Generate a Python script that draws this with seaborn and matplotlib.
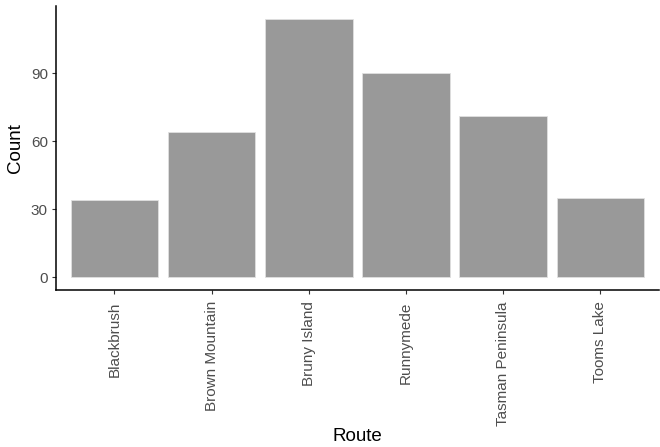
import matplotlib
matplotlib.use("Agg")
import matplotlib.pyplot as plt
import seaborn as sns
import pandas as pd

routes = ["Blackbrush", "Brown Mountain", "Bruny Island", "Runnymede",
          "Tasman Peninsula", "Tooms Lake"]
counts = [34, 64, 114, 90, 71, 35]
y_ticks = [0, 30, 60, 90]

df = pd.DataFrame({"Route": routes, "Count": counts})

sns.set_style("white")
plt.rcParams['font.family'] = ['Liberation Sans', 'DejaVu Sans']

fig = plt.figure(figsize=(6.6, 4.47), dpi=100)
ax = fig.add_axes([0.085, 0.351, 0.913, 0.636])
sns.barplot(data=df, x="Route", y="Count", color="#999999", saturation=1,
            width=0.9, edgecolor="#e0e0e0", linewidth=0.6, ax=ax)

ax.set_xlim(-0.6, len(routes) - 0.4)
ax.set_ylim(-5.7, 119.7)
ax.set_yticks(y_ticks)
sns.despine(ax=ax)
for s in ["left", "bottom"]:
    ax.spines[s].set_color("black")
    ax.spines[s].set_linewidth(1.1)

ax.tick_params(axis="both", colors="#333333", labelcolor="#4d4d4d",
               length=3, width=0.8, labelsize=11, bottom=True, left=True)
ax.tick_params(axis="x", rotation=90, pad=5)
ax.tick_params(axis="y", pad=3)
ax.set_xlabel("Route", fontsize=13.5, color="black", labelpad=2)
ax.set_ylabel("Count", fontsize=13.5, color="black", labelpad=5)

fig.savefig("out.png", dpi=100)
